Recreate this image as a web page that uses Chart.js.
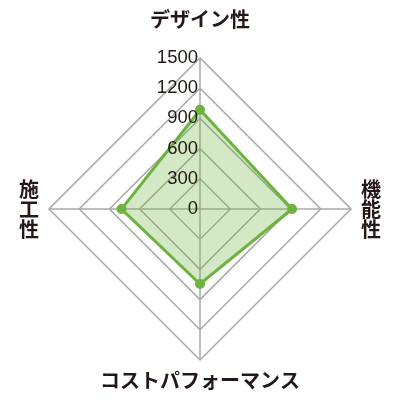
<!DOCTYPE html>
<html>
<head>
<meta charset="utf-8">
<script src="https://cdn.jsdelivr.net/npm/chart.js@4"></script>
<style>
  html, body { margin: 0; padding: 0; background: #fff; }
  #wrap { width: 400px; height: 400px; }
</style>
</head>
<body>
<div id="wrap"><canvas id="radarChart"></canvas></div>
<script>
const categories = [['デザイン性'], ['機', '能', '性'], ['コストパフォーマンス'], ['施', '工', '性']];
const scores = [985, 915, 745, 780];
const tickValues = [0, 300, 600, 900, 1200, 1500];
const tickLabels = ['0', '300', '600', '900', '1200', '1500'];

// tick labels sit left of the vertical axis, right aligned
const tickLabelPlugin = {
    id: 'tickLabels',
    afterDraw(chart) {
        const s = chart.scales.r;
        const c = chart.ctx;
        c.save();
        c.font = '18.5px "Liberation Sans", Arial, sans-serif';
        c.fillStyle = '#231815';
        c.textAlign = 'right';
        c.textBaseline = 'middle';
        tickValues.forEach((v, i) => {
            const r = s.getDistanceFromCenterForValue(v);
            c.fillText(tickLabels[i], s.xCenter - 2, s.yCenter - r);
        });
        c.restore();
    }
};

var ctx = document.getElementById('radarChart').getContext('2d');
var radarChart = new Chart(ctx, {
    type: 'radar',
    data: {
        labels: categories,
        datasets: [{
            data: scores,
            borderColor: '#6db33f',
            backgroundColor: 'rgba(109, 179, 63, 0.3)',
            borderWidth: 3,
            pointBackgroundColor: '#6db33f',
            pointBorderColor: '#6db33f',
            pointRadius: 3.5,
            fill: true
        }]
    },
    options: {
        responsive: true,
        maintainAspectRatio: false,
        animation: false,
        layout: {
            padding: { top: -7, bottom: -1, left: -4, right: -4 }
        },
        plugins: {
            legend: { display: false },
            tooltip: { enabled: false }
        },
        scales: {
            r: {
                min: 0,
                max: 1500,
                ticks: {
                    stepSize: 300,
                    display: false
                },
                grid: {
                    color: '#a8a8a8',
                    lineWidth: 1.5
                },
                angleLines: {
                    color: '#a8a8a8',
                    lineWidth: 1.5
                },
                pointLabels: {
                    color: '#231815',
                    padding: (c) => c.index === 0 ? 29 : 10,
                    font: {
                        family: '"Noto Sans CJK JP", sans-serif',
                        size: 20,
                        weight: 'bold',
                        lineHeight: 1
                    }
                }
            }
        }
    },
    plugins: [tickLabelPlugin]
});
</script>
</body>
</html>
